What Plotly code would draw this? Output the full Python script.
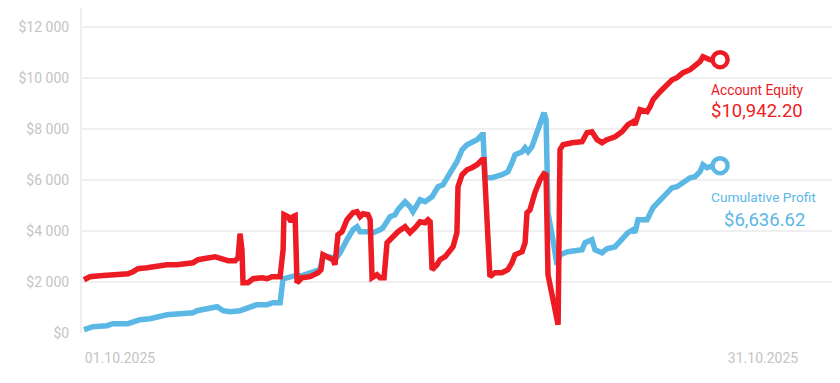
import plotly.graph_objects as go

# ---- data (x = day of month, values in USD) ----
equity_days = [-0.68, -0.40, 0.07, 0.53, 1.00, 1.37, 1.61, 1.84, 2.26, 2.49, 2.87, 3.19, 3.66, 4.13, 4.41,
               4.64, 4.97, 5.20, 5.43, 5.57, 5.81, 6.04, 6.37, 6.51, 6.60, 6.69, 6.74, 6.97, 7.21, 7.63,
               7.86, 8.09, 8.47, 8.61, 8.65, 8.84, 8.98, 9.07, 9.17, 9.26, 9.49, 9.87, 10.24, 10.38, 10.47,
               10.71, 10.94, 11.03, 11.17, 11.36, 11.59, 11.87, 12.06, 12.20, 12.34, 12.57, 12.67, 12.76,
               12.99, 13.13, 13.32, 13.46, 13.69, 13.97, 14.30, 14.53, 14.77, 15.00, 15.23, 15.37, 15.47,
               15.56, 15.79, 15.93, 16.17, 16.40, 16.54, 16.72, 16.77, 16.96, 17.19, 17.42, 17.66, 17.89,
               17.98, 18.26, 18.50, 18.82, 19.10, 19.29, 19.43, 19.76, 19.90, 19.99, 20.13, 20.36, 20.60,
               20.78, 20.88, 20.97, 21.20, 21.39, 21.44, 21.53, 21.67, 22.09, 22.56, 22.79, 23.02, 23.26,
               23.49, 23.72, 24.10, 24.42, 24.70, 24.94, 25.03, 25.26, 25.59, 25.73, 25.87, 26.20, 26.52,
               26.76, 26.99, 27.27, 27.60, 27.74, 28.06, 28.20, 28.39, 28.53, 29.00]
equity_values = [2088, 2206, 2245, 2284, 2323, 2323, 2402, 2519, 2558, 2598, 2637, 2676, 2676, 2715, 2754,
                 2872, 2911, 2950, 2989, 2950, 2872, 2833, 2833, 2950, 3891, 3264, 1971, 1971, 2127, 2167,
                 2127, 2206, 2206, 3264, 4635, 4557, 4361, 4557, 4596, 1971, 2167, 2206, 2363, 2480, 3068,
                 2950, 2872, 2676, 3851, 3969, 4439, 4713, 4753, 4557, 4674, 4635, 4439, 2167,
                 2284, 2167, 2167, 3538, 3734, 3969, 4165, 3930, 4126, 4361, 4322, 4439, 4361,
                 2480, 2676, 2872, 2989, 3185, 3381, 3930, 5732, 6202, 6398, 6476, 6594, 6790,
                 6790, 2206, 2363, 2363, 2480, 2754, 3068, 3185, 3538, 4713, 4831, 5497, 6006,
                 6241, 6202, 2284, 1305, 325, 325, 7182, 7378, 7456, 7495, 7848, 7887, 7574,
                 7456, 7574, 7691, 7887, 8161, 8279, 8161, 8749, 8671, 8866, 9141, 9454, 9728,
                 9924, 10003, 10199, 10316, 10434, 10630, 10826, 10786, 10708, 10708]

profit_days = [-0.68, -0.26, 0.39, 0.67, 1.37, 1.70, 1.93, 2.40, 2.87, 3.19, 3.80, 4.41, 4.59, 5.06, 5.53,
               5.81, 6.13, 6.60, 7.07, 7.39, 7.86, 8.14, 8.47, 8.61, 8.84, 9.17, 9.49, 10.01, 10.33, 10.47,
               10.71, 10.94, 11.13, 11.27, 11.59, 11.87, 12.06, 12.20, 12.53, 12.81, 13.13, 13.27, 13.60,
               13.83, 13.97, 14.30, 14.53, 14.67, 15.00, 15.23, 15.56, 15.84, 16.07, 16.30, 16.49, 16.72,
               16.96, 17.19, 17.42, 17.66, 17.89, 17.94, 18.03, 18.36, 18.82, 19.10, 19.29, 19.43, 19.76,
               19.90, 20.04, 20.22, 20.50, 20.69, 20.78, 20.88, 20.92, 20.97, 21.20, 21.39, 21.53, 21.90,
               22.56, 22.70, 23.02, 23.16, 23.49, 23.72, 24.10, 24.42, 24.70, 24.94, 25.03, 25.17, 25.59,
               25.87, 26.20, 26.52, 26.76, 26.99, 27.27, 27.60, 27.83, 28.06, 28.20, 28.39, 28.53, 29.00]
profit_values = [129, 247, 286, 364, 364, 443, 521, 560, 639, 717, 756, 795, 874, 952, 1030,
                 874, 835, 874, 991, 1109, 1109, 1187, 1187, 2127, 2167, 2245, 2245, 2363, 2480, 3029,
                 2989, 2950, 2989, 3146, 3655, 4047, 4165, 3969, 3969, 3930, 4047, 4126, 4557,
                 4635, 4831, 5144, 4948, 4753, 5223, 5144, 5340, 5732, 5810, 6085, 6398, 6712,
                 7182, 7378, 7456, 7574, 7769, 7769, 6085, 6085, 6202, 6320, 6672, 6986, 7103,
                 7260, 7103, 7299, 7965, 8553, 8631, 8357, 6202, 4713, 3655, 2676, 3068, 3185,
                 3264, 3538, 3655, 3264, 3146, 3303, 3381, 3655, 3930, 4047, 3930, 4439, 4439,
                 4909, 5223, 5497, 5693, 5732, 5889, 6085, 6124, 6320, 6594, 6476, 6516, 6555]

series_names = ["Account Equity", "Cumulative Profit"]
series_totals = ["$10,942.20", "$6,636.62"]
x_tick_vals = [1, 31]
x_tick_text = ["01.10.2025", "31.10.2025"]
y_tick_vals = [0, 2000, 4000, 6000, 8000, 10000, 12000]
y_tick_text = ["$0", "$2 000", "$4 000", "$6 000", "$8 000", "$10 000", "$12 000"]

RED = "#ed1c24"
BLUE = "#5bb8e5"
GRID = "#efefef"
TICK = "#c4c4c4"

fig = go.Figure()
fig.add_trace(go.Scatter(x=profit_days, y=profit_values, mode="lines",
                         line=dict(color=BLUE, width=5.5), hoverinfo="skip", showlegend=False))
fig.add_trace(go.Scatter(x=equity_days, y=equity_values, mode="lines",
                         line=dict(color=RED, width=5.5), hoverinfo="skip", showlegend=False))
fig.add_trace(go.Scatter(x=[profit_days[-1]], y=[profit_values[-1]], mode="markers",
                         marker=dict(size=15, color="white", line=dict(color=BLUE, width=4.5)),
                         hoverinfo="skip", showlegend=False))
fig.add_trace(go.Scatter(x=[equity_days[-1]], y=[equity_values[-1]], mode="markers",
                         marker=dict(size=15, color="white", line=dict(color=RED, width=4.5)),
                         hoverinfo="skip", showlegend=False))

ann = [
    (0.893, 0.748, series_names[0], 13.8, RED),
    (0.893, 0.683, series_totals[0], 18.5, RED),
    (0.902, 0.418, series_names[1], 13.7, BLUE),
    (0.903, 0.348, series_totals[1], 18.5, BLUE),
]
for ax, ay, txt, sz, col in ann:
    fig.add_annotation(x=ax, y=ay, xref="paper", yref="paper", text=txt, showarrow=False,
                       xanchor="center", yanchor="middle",
                       font=dict(family="Roboto", size=sz, color=col))

# page body adds an 8px offset, so the figure is 8px smaller and margins compensate
fig.update_layout(
    width=832, height=375,
    margin=dict(l=74, r=2, t=0, b=50),
    paper_bgcolor="white", plot_bgcolor="white",
    font=dict(family="Roboto", color=TICK),
    xaxis=dict(range=[-0.773, 34.5], tickvals=x_tick_vals, ticktext=x_tick_text,
               showgrid=False, zeroline=False, showline=False,
               ticks="outside", ticklen=12, tickcolor="rgba(0,0,0,0)",
               tickfont=dict(family="Roboto", size=14, color=TICK)),
    yaxis=dict(range=[0, 12735], tickvals=y_tick_vals, ticktext=y_tick_text,
               showgrid=True, gridcolor=GRID, gridwidth=2, zeroline=False,
               showline=True, linecolor=GRID, linewidth=2,
               ticks="outside", ticklen=8, tickcolor="rgba(0,0,0,0)",
               tickfont=dict(family="Roboto", size=14, color=TICK)),
)

fig.write_html("out.html")
